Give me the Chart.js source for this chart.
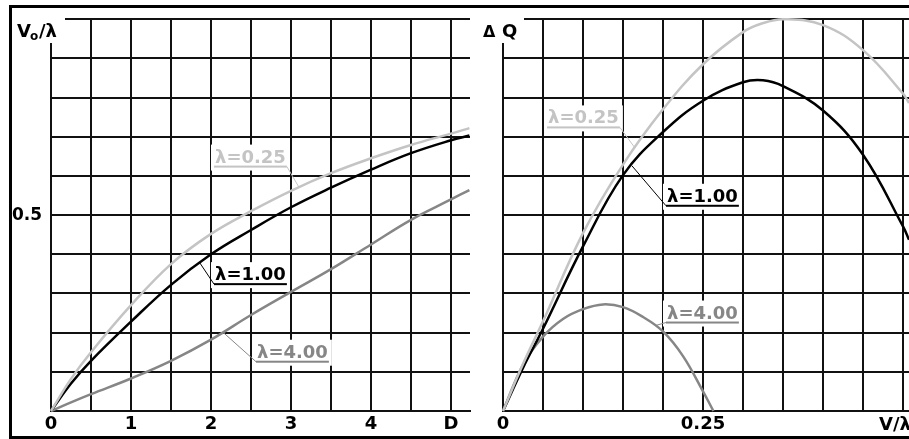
<!DOCTYPE html>
<html>
<head>
<meta charset="utf-8">
<script src="https://cdn.jsdelivr.net/npm/chart.js@4.4.0/dist/chart.umd.min.js"></script>
<style>
  html, body { margin: 0; padding: 0; background: #fff; }
  #wrap { position: relative; width: 909px; height: 439px; overflow: hidden; }
  #frame { position: absolute; left: 9px; top: 5px; width: 960px; height: 428px; border: 3px solid #000; }
  canvas { position: absolute; left: 0; top: 0; }
</style>
</head>
<body>
<div id="wrap">
  <div id="frame"></div>
  <canvas id="leftChart" width="909" height="439"></canvas>
  <canvas id="rightChart" width="909" height="439"></canvas>
</div>
<script>
// left panel: V0/lambda against D
const dValues = [0, 0.25, 0.5, 1, 1.5, 2, 2.5, 3, 3.5, 4, 4.5, 5, 5.23];
const v0Lam025 = [0, 0.082, 0.15, 0.27, 0.375, 0.452, 0.51, 0.562, 0.607, 0.645, 0.679, 0.708, 0.722];
const v0Lam100 = [0, 0.07, 0.128, 0.228, 0.322, 0.40, 0.462, 0.52, 0.57, 0.616, 0.658, 0.691, 0.703];
const v0Lam400 = [0, 0.022, 0.043, 0.083, 0.128, 0.182, 0.245, 0.304, 0.362, 0.425, 0.488, 0.54, 0.564];

// right panel: dQ against V/lambda
const vValues = [0, 0.025, 0.05, 0.1, 0.15, 0.2, 0.25, 0.3, 0.325, 0.35, 0.4, 0.45, 0.5, 0.5075];
const dqLam025 = [0, 0.12, 0.229, 0.454, 0.629, 0.77, 0.885, 0.967, 0.99, 1.0, 0.985, 0.921, 0.81, 0.786];
const dqLam100 = [0, 0.11, 0.21, 0.42, 0.602, 0.712, 0.792, 0.839, 0.844, 0.829, 0.767, 0.654, 0.471, 0.437];
const vValues4 = [0, 0.025, 0.05, 0.075, 0.1, 0.125, 0.15, 0.175, 0.2, 0.225, 0.25, 0.263];
const dqLam400 = [0, 0.118, 0.19, 0.235, 0.26, 0.272, 0.265, 0.24, 0.203, 0.14, 0.05, 0];

const leftTicks = { 0: '0', 1: '1', 2: '2', 3: '3', 4: '4', 5: 'D' };
const rightTicks = { 0: '0', 0.25: '0.25' };
const seriesNames = ['λ=0.25', 'λ=1.00', 'λ=4.00'];

const COLORS = ['#c4c4c4', '#000000', '#868686'];
const GRID = '#111111';
const FONT = 'DejaVu Sans';

Chart.defaults.font.family = FONT;
Chart.defaults.font.size = 18;
Chart.defaults.font.weight = 'bold';
Chart.defaults.color = '#000';

function points(xs, ys) {
    return xs.map((x, i) => ({ x: x, y: ys[i] }));
}

// linear lookup on a series, used to land callout leaders on the curve
function valueAt(xs, ys, x) {
    for (let i = 1; i < xs.length; i++) {
        if (x <= xs[i]) {
            const t = (x - xs[i - 1]) / (xs[i] - xs[i - 1]);
            return ys[i - 1] + t * (ys[i] - ys[i - 1]);
        }
    }
    return ys[ys.length - 1];
}

function lineSet(label, data, color) {
    return {
        label: label,
        data: data,
        borderColor: color,
        borderWidth: 2.5,
        pointRadius: 0,
        tension: 0.4,
        clip: 4
    };
}

// corner axis title and underlined series labels with leader lines
const calloutPlugin = {
    id: 'callouts',
    beforeDatasetsDraw(chart, args, opts) {
        const { ctx, scales: { x, y } } = chart;
        ctx.save();
        ctx.textBaseline = 'alphabetic';

        const t = opts.title;
        if (t) {
            ctx.fillStyle = '#fff';
            ctx.fillRect(t.box[0], t.box[1], t.box[2], t.box[3]);
            ctx.fillStyle = '#000';
            t.parts.forEach(p => {
                ctx.font = 'bold ' + p.size + 'px ' + FONT;
                ctx.fillText(p.text, p.x, p.y);
            });
        }

        ctx.font = 'bold 18px ' + FONT;
        (opts.items || []).forEach(item => {
            const px = x.getPixelForValue(item.at[0]);
            const py = y.getPixelForValue(item.at[1]);
            const w = ctx.measureText(item.text).width;

            ctx.fillStyle = '#fff';
            ctx.fillRect(px - 4, py - 18, w + 8, 26);

            ctx.fillStyle = item.color;
            ctx.fillText(item.text, px, py);
            ctx.fillRect(px - 1, py + 3, w + 2, 2);

            const tipX = x.getPixelForValue(item.tip);
            const tipY = y.getPixelForValue(valueAt(item.xs, item.ys, item.tip));
            const startX = item.side === 'right' ? px + w + 1 : px - 1;
            ctx.strokeStyle = item.color;
            ctx.lineWidth = 1;
            ctx.beginPath();
            ctx.moveTo(startX, py + 4);
            ctx.lineTo(tipX, tipY);
            ctx.stroke();
        });
        ctx.restore();
    },
    afterDraw(chart, args, opts) {
        if (!opts.edgeLabel) return;
        const { ctx } = chart;
        ctx.save();
        ctx.font = 'bold 18px ' + FONT;
        ctx.fillStyle = '#000';
        ctx.textAlign = 'right';
        ctx.textBaseline = 'alphabetic';
        ctx.fillText(opts.edgeLabel.text, opts.edgeLabel.x, opts.edgeLabel.y);
        ctx.restore();
    }
};

function axes(xMax, xStep, xLabel, yLabel, yWidth) {
    return {
        x: {
            type: 'linear',
            min: 0,
            max: xMax,
            grid: { color: GRID, lineWidth: 2, drawTicks: false },
            border: { display: true, color: GRID, width: 2 },
            ticks: {
                stepSize: xStep,
                includeBounds: false,
                autoSkip: false,
                maxRotation: 0,
                padding: 3,
                callback: xLabel
            },
            afterFit(scale) { scale.height = 24; }
        },
        y: {
            type: 'linear',
            min: 0,
            max: 1,
            grid: { color: GRID, lineWidth: 2, drawTicks: false },
            border: { display: true, color: GRID, width: 2 },
            ticks: {
                stepSize: 0.1,
                autoSkip: false,
                padding: 9,
                font: { size: 17 },
                callback: yLabel
            },
            afterFit(scale) { scale.width = yWidth; }
        }
    };
}

function pick(map) {
    return function (v) {
        for (const k in map) {
            if (Math.abs(Number(k) - v) < 1e-6) return map[k];
        }
        return '';
    };
}

new Chart(document.getElementById('leftChart'), {
    type: 'line',
    data: {
        datasets: [
            lineSet(seriesNames[0], points(dValues, v0Lam025), COLORS[0]),
            lineSet(seriesNames[1], points(dValues, v0Lam100), COLORS[1]),
            lineSet(seriesNames[2], points(dValues, v0Lam400), COLORS[2])
        ]
    },
    options: {
        responsive: false,
        animation: false,
        layout: { padding: { left: 11, right: 439, top: 11, bottom: 4 } },
        scales: axes(5.2375, 0.5, pick(leftTicks), pick({ 0.5: '0.5' }), 40),
        plugins: {
            legend: { display: false },
            tooltip: { enabled: false },
            callouts: {
                title: {
                    box: [14, 13, 51, 30],
                    parts: [
                        { text: 'V', x: 17, y: 37, size: 18 },
                        { text: 'o', x: 30, y: 40, size: 12 },
                        { text: '/λ', x: 39, y: 37, size: 18 }
                    ]
                },
                items: [
                    { text: seriesNames[0], color: COLORS[0], at: [2.05, 0.634], side: 'right', tip: 3.1, xs: dValues, ys: v0Lam025 },
                    { text: seriesNames[1], color: COLORS[1], at: [2.05, 0.334], side: 'left', tip: 1.86, xs: dValues, ys: v0Lam100 },
                    { text: seriesNames[2], color: COLORS[2], at: [2.575, 0.136], side: 'left', tip: 2.15, xs: dValues, ys: v0Lam400 }
                ]
            }
        }
    },
    plugins: [calloutPlugin]
});

new Chart(document.getElementById('rightChart'), {
    type: 'line',
    data: {
        datasets: [
            lineSet(seriesNames[0], points(vValues, dqLam025), COLORS[0]),
            lineSet(seriesNames[1], points(vValues, dqLam100), COLORS[1]),
            lineSet(seriesNames[2], points(vValues4, dqLam400), COLORS[2])
        ]
    },
    options: {
        responsive: false,
        animation: false,
        layout: { padding: { left: 493, right: 0, top: 11, bottom: 4 } },
        scales: axes(0.5075, 0.05, pick(rightTicks), () => '', 10),
        plugins: {
            legend: { display: false },
            tooltip: { enabled: false },
            callouts: {
                title: {
                    box: [479, 13, 45, 30],
                    parts: [
                        { text: 'Δ', x: 483, y: 37, size: 16 },
                        { text: 'Q', x: 502, y: 37, size: 18 }
                    ]
                },
                items: [
                    { text: seriesNames[0], color: COLORS[0], at: [0.05625, 0.734], side: 'right', tip: 0.165, xs: vValues, ys: dqLam025 },
                    { text: seriesNames[1], color: COLORS[1], at: [0.205, 0.534], side: 'left', tip: 0.161, xs: vValues, ys: dqLam100 },
                    { text: seriesNames[2], color: COLORS[2], at: [0.205, 0.236], side: 'left', tip: 0.19, xs: vValues4, ys: dqLam400 }
                ],
                // end-of-axis unit label, partly running off the edge
                edgeLabel: { text: 'V/λ', x: 911, y: 430 }
            }
        }
    },
    plugins: [calloutPlugin]
});
</script>
</body>
</html>
